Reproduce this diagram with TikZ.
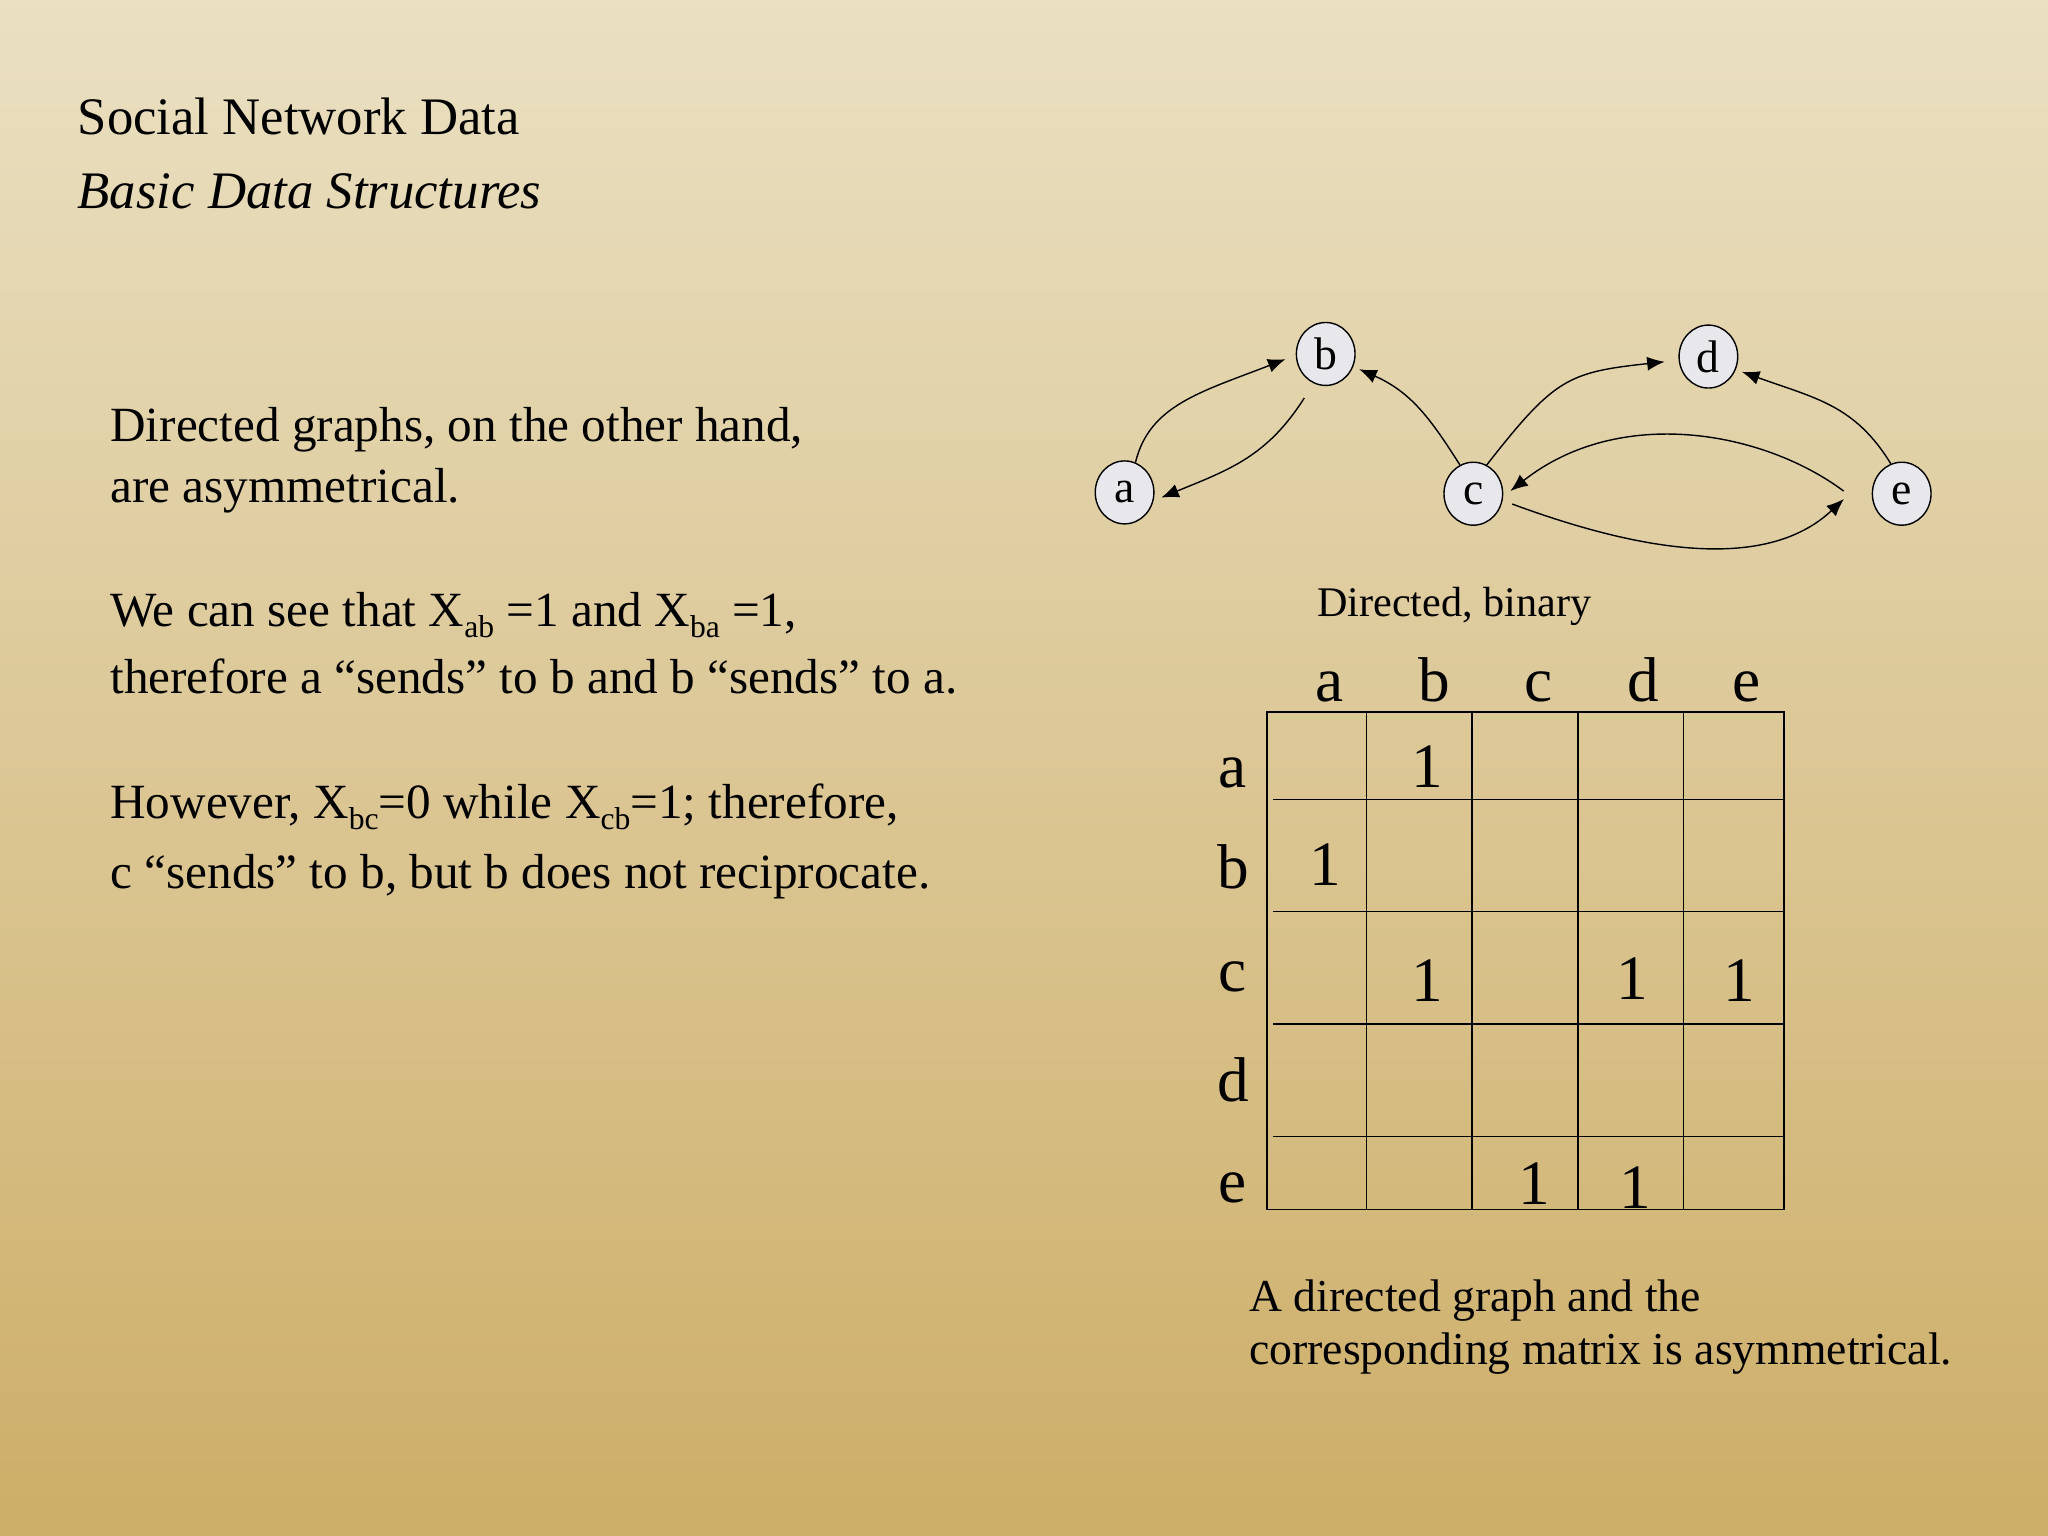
\documentclass[tikz,border=0pt]{standalone}
\usepackage{fontspec}
\setmainfont{Liberation Serif}
\usetikzlibrary{arrows.meta}
\newcommand{\lowsub}[1]{\raisebox{-0.45ex}{\fontsize{9}{9}\selectfont #1}}
\definecolor{bgtop}{HTML}{EAE0C2}
\definecolor{bgbot}{HTML}{CDAE68}
\definecolor{nodefill}{HTML}{E8E8EC}
\begin{document}
\begin{tikzpicture}[x=0.01306cm,y=-0.01306cm,
  txt/.style={anchor=base west,inner sep=0,font=\fontsize{14}{16}\selectfont},
  vtx/.style={ellipse,draw=black,thin,fill=nodefill,minimum width=22pt*0.37*2.05,minimum height=22pt*0.37*2.2,inner sep=0,font=\fontsize{13}{13}\selectfont},
  edge/.style={-{Latex[length=5pt,width=4pt]},thin},
  lab/.style={anchor=base,inner sep=0,font=\fontsize{18}{18}\selectfont},
  gl/.style={thin}]
\usetikzlibrary{shapes.geometric}
\shade[top color=bgtop,bottom color=bgbot] (0,0) rectangle (1568,1176);
\useasboundingbox (0,0) rectangle (1568,1176);
\node[txt,font=\fontsize{15}{17}\selectfont] (t1) at (59,103) {Social Network Data};
\node[txt,font=\fontsize{15}{17}\selectfont\itshape] (t2) at (59,160) {Basic Data Structures};
\node[txt] (p1) at (84,338) {Directed graphs, on the other hand,};
\node[txt] (p2) at (84,385) {are asymmetrical.};
\node[txt] (p3) at (84,480) {We can see that X\lowsub{ab} =1 and X\lowsub{ba} =1,};
\node[txt] (p4) at (84,531) {therefore a “sends” to b and b “sends” to a.};
\node[txt] (p5) at (84,627) {However, X\lowsub{bc}=0 while X\lowsub{cb}=1; therefore,};
\node[txt] (p6) at (84,680) {c “sends” to b, but b does not reciprocate.};
\node[txt,font=\fontsize{12}{14}\selectfont] (cap1) at (1008,472) {Directed, binary};
\node[txt,font=\fontsize{13}{15}\selectfont] (cap2) at (956,1004) {A directed graph and the};
\node[txt,font=\fontsize{13}{15}\selectfont] (cap3) at (956,1045) {corresponding matrix is asymmetrical.};
% graph
\node[vtx] (a) at (861,377) {a};
\node[vtx] (b) at (1015,271) {b};
\node[vtx] (c) at (1128,378) {c};
\node[vtx] (d) at (1308,273) {d};
\node[vtx] (e) at (1456,378) {e};
\draw[edge] (a.70) .. controls (880,310) and (920,300) .. ([xshift=-3pt]b.190);
\draw[edge] ([shift={(-3pt,-4pt)}]b.250) .. controls (970,350) and (940,360) .. ([xshift=2pt]a.-10);
\draw[edge] (c.115) .. controls (1095,320) and (1080,300) .. ([xshift=2pt]b.-30);
\draw[edge] (c.65) .. controls (1190,290) and (1200,285) .. ([xshift=-4pt]d.190);
\draw[edge] (e.110) .. controls (1420,310) and (1390,305) .. ([xshift=2pt]d.-30);
\draw[edge] ([xshift=-8pt]e.175) .. controls (1350,330) and (1240,310) .. ([xshift=2pt]c.5);
\draw[edge] ([xshift=3pt]c.-20) .. controls (1250,420) and (1350,440) .. ([xshift=-8pt]e.190);
% matrix
\coordinate (m0) at (970,545);
\coordinate (m1) at (1366,926);
\draw[gl] (m0) rectangle (m1);
\foreach \x in {1046,1127,1208,1289} \draw[gl] (\x,545) -- (\x,926);
\foreach \y in {612,698,784,870} \draw[gl] (975,\y) -- (1366,\y);
\foreach \l/\x in {a/1018,b/1098,c/1178,d/1258,e/1337} \node[lab] (h\l) at (\x,537) {\l};
\foreach \l/\y in {a/603,b/680,c/759,d/843,e/921} \node[lab] (r\l) at (944,\y) {\l};
\foreach \x/\y [count=\i] in {1093/603,1015/678,1093/767,1250/765,1332/767,1175/922,1252/925} \node[lab] (v\i) at (\x,\y) {1};
\end{tikzpicture}
\end{document}
